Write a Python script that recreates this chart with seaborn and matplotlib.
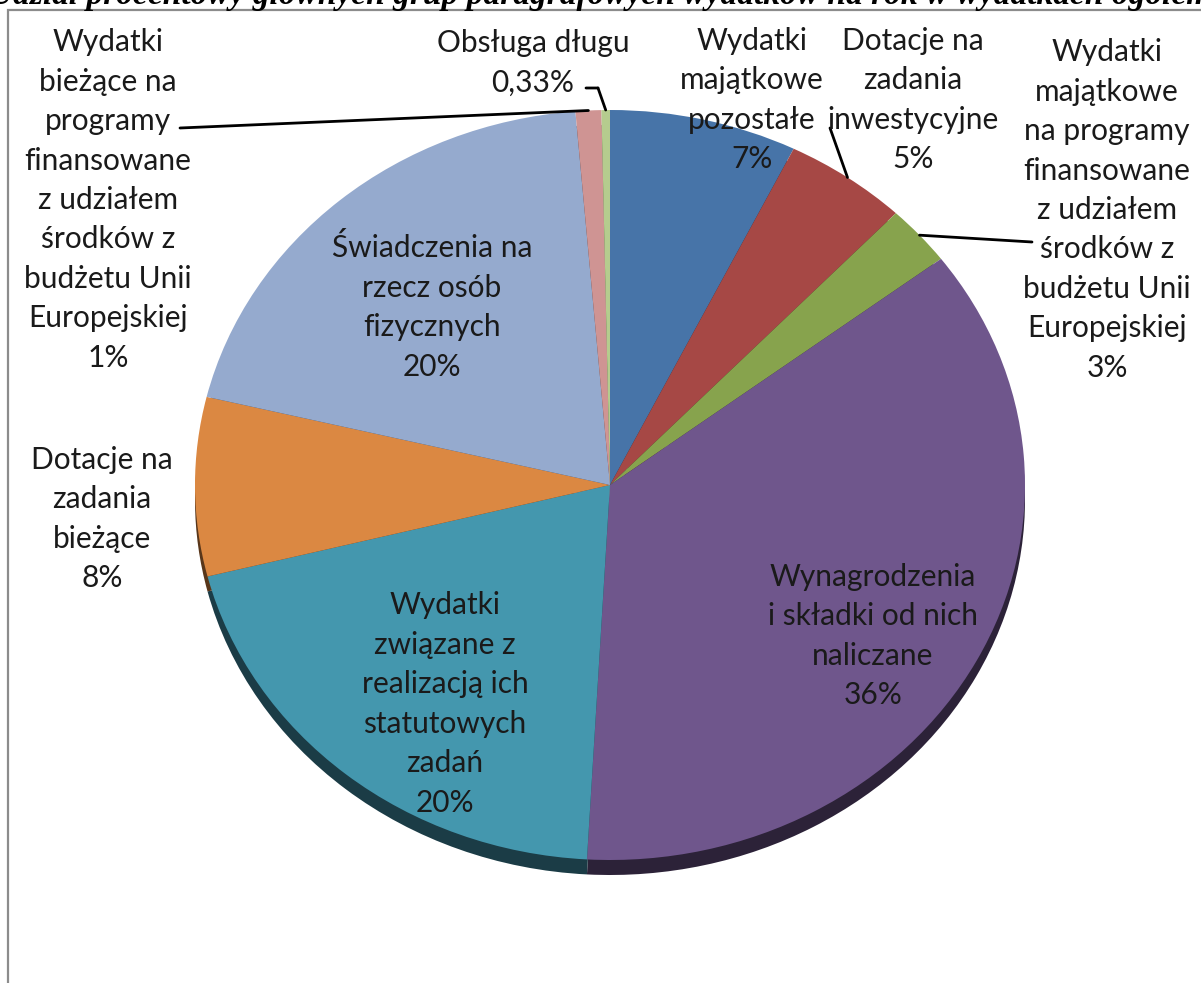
import numpy as np
import matplotlib
matplotlib.use("Agg")
import matplotlib.pyplot as plt
import matplotlib.colors as mcolors
from matplotlib.patches import Rectangle
import seaborn as sns

# slices clockwise from 12 o'clock
categories = [
    "Wydatki majątkowe pozostałe",
    "Dotacje na zadania inwestycyjne",
    "Wydatki majątkowe na programy UE",
    "Wynagrodzenia i składki od nich naliczane",
    "Wydatki związane z realizacją ich statutowych zadań",
    "Dotacje na zadania bieżące",
    "Świadczenia na rzecz osób fizycznych",
    "Wydatki bieżące na programy UE",
    "Obsługa długu",
]
shares = [7.3, 4.8, 2.6, 36.2, 20.2, 7.7, 19.9, 1.0, 0.33]
labels = [
    "Wydatki\nmajątkowe\npozostałe\n7%",
    "Dotacje na\nzadania\ninwestycyjne\n5%",
    "Wydatki\nmajątkowe\nna programy\nfinansowane\nz udziałem\nśrodków z\nbudżetu Unii\nEuropejskiej\n3%",
    "Wynagrodzenia\ni składki od nich\nnaliczane\n36%",
    "Wydatki\nzwiązane z\nrealizacją ich\nstatutowych\nzadań\n20%",
    "Dotacje na\nzadania\nbieżące\n8%",
    "Świadczenia na\nrzecz osób\nfizycznych\n20%",
    "Wydatki\nbieżące na\nprogramy\nfinansowane\nz udziałem\nśrodków z\nbudżetu Unii\nEuropejskiej\n1%",
    "Obsługa długu\n0,33%",
]
colors = ["#4774A8", "#A64845", "#87A34D", "#6F568C", "#4497AE",
          "#DB8842", "#95AACE", "#CF9493", "#B5CC8E"]

title = "Udział procentowy głównych grup paragrafowych wydatków na rok w wydatkach ogółem"

sns.set_theme(style="white")
plt.rcParams["font.family"] = ["Lato", "DejaVu Sans"]

W, H = 1201, 983
fig = plt.figure(figsize=(W / 100, H / 100), dpi=100)

# pie centre and radii in pixels (tilted -> ellipse)
cx, cy, rx, ry = 610, 485, 415, 375
ax = fig.add_axes([(cx - rx) / W, (H - cy - ry) / H, 2 * rx / W, 2 * ry / H])

shade = [tuple(c * 0.4 for c in mcolors.to_rgb(col)) for col in colors]
depth = 15 / ry

side, _ = ax.pie(shares, colors=shade, startangle=90, counterclock=False,
                 radius=1, center=(0, -depth), wedgeprops=dict(linewidth=0))
top, _ = ax.pie(shares, colors=colors, startangle=90, counterclock=False,
                radius=1, center=(0, 0), wedgeprops=dict(linewidth=0))
for w in side + top:
    w.set_clip_on(False)
ax.set_aspect("auto")
ax.set_xlim(-1, 1)
ax.set_ylim(-1, 1)
ax.axis("off")

# frame of the original chart area
fig.add_artist(Rectangle((8 / W, -0.1), 1.2, 1.1 - 10 / H, transform=fig.transFigure,
                         fill=False, edgecolor="#8c8c8c", linewidth=1.6))

# title of the page, cut off at the top like in the source
fig.text(0.5, 1 - 4 / H, title, ha="center", va="baseline", fontsize=24,
         family="Liberation Serif", fontweight="bold", fontstyle="italic", color="black")

# label positions (px, centre of text block)
label_pos = [(752, 100), (913, 100), (1107, 210), (873, 636), (445, 704),
             (102, 519), (432, 307), (108, 200), (533, 63)]
for txt, (x, y) in zip(labels, label_pos):
    fig.text(x / W, 1 - y / H, txt, ha="center", va="center", fontsize=21.5,
             linespacing=1.5, color="#1a1a1a")


def edge_point(w):
    a = np.deg2rad((w.theta1 + w.theta2) / 2)
    return (np.cos(a), np.sin(a))


def leader(w, pts):
    xy = edge_point(w)
    pts = [(x / W, 1 - y / H) for x, y in pts]
    for a, b in zip(pts[:-1], pts[1:]):
        ax.annotate("", xy=b, xycoords="figure fraction", xytext=a, textcoords="figure fraction",
                    arrowprops=dict(arrowstyle="-", color="black", lw=2, shrinkA=0, shrinkB=0))
    ax.annotate("", xy=xy, xycoords="data", xytext=pts[-1], textcoords="figure fraction",
                arrowprops=dict(arrowstyle="-", color="black", lw=2, shrinkA=0, shrinkB=0),
                annotation_clip=False)


leader(top[1], [(830, 128)])
leader(top[2], [(1032, 242)])
leader(top[7], [(180, 128)])
leader(top[8], [(586, 88), (598, 88)])

fig.savefig("out.png", dpi=100)
